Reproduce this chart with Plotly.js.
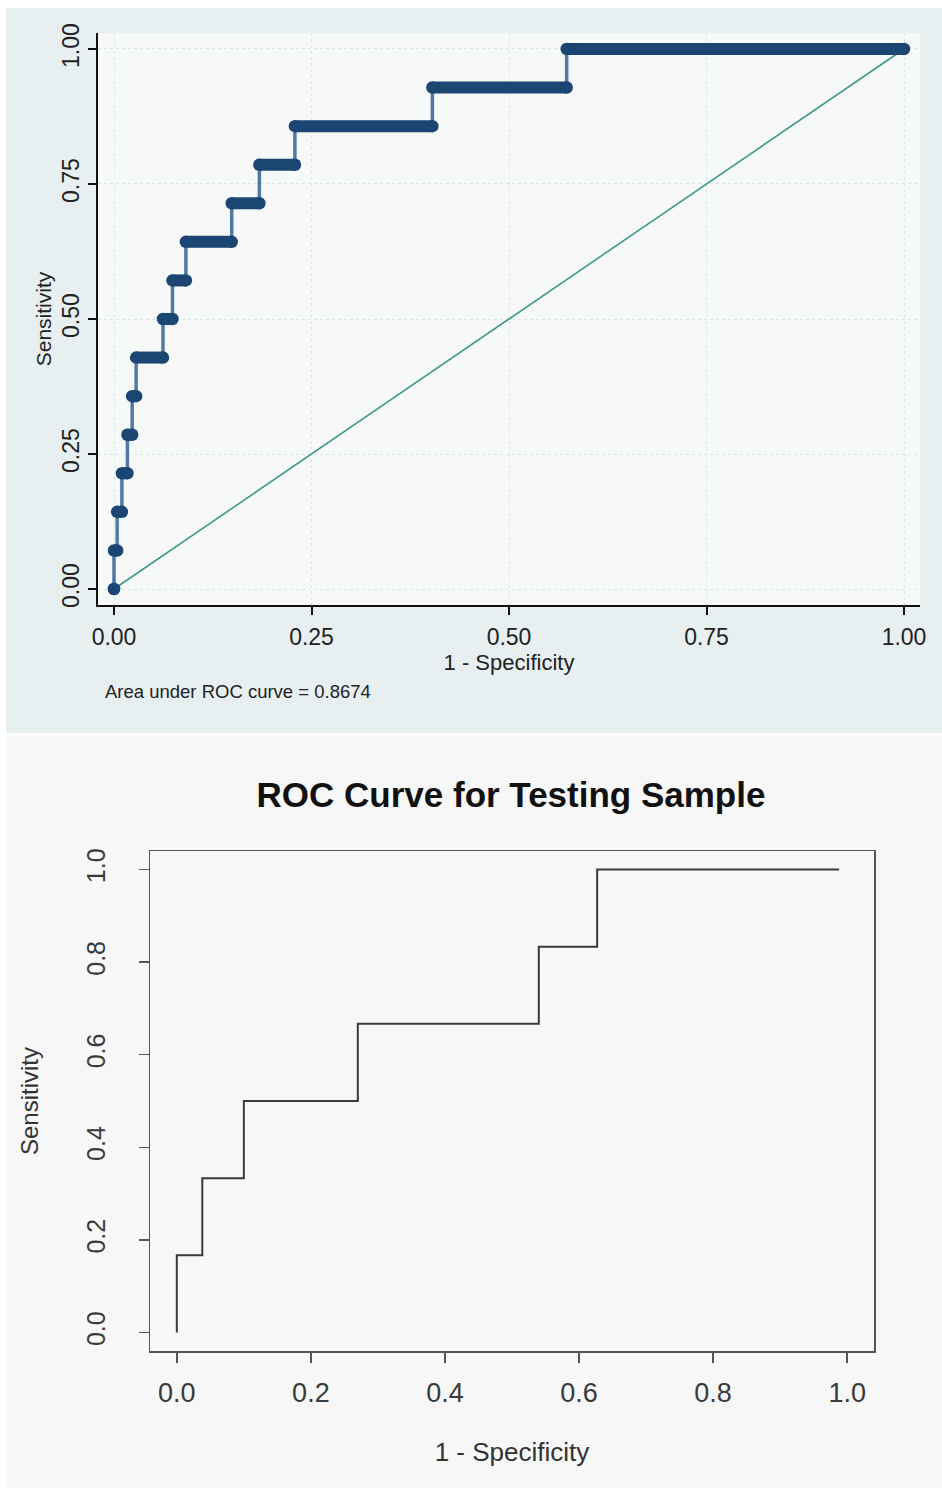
<!DOCTYPE html>
<html>
<head>
<meta charset="utf-8">
<script src="https://cdn.plot.ly/plotly-3.0.1.min.js"></script>
<style>
  html, body { margin: 0; padding: 0; background: #ffffff; }
  #chart { width: 942px; height: 1488px; }
</style>
</head>
<body>
<div id="chart"></div>
<script>
// ---------- Top chart (training ROC, Stata style) ----------
// sensitivity levels (k/14) and the 1-specificity where each level starts / ends
var topTPR      = [0, 0.0714, 0.1429, 0.2143, 0.2857, 0.3571, 0.4286, 0.5000, 0.5714, 0.6429, 0.7143, 0.7857, 0.8571, 0.9286, 1.0000];
var topFPRStart = [0, 0.000, 0.004, 0.010, 0.017, 0.023, 0.028, 0.062, 0.074, 0.091, 0.149, 0.184, 0.229, 0.403, 0.573];
var topFPREnd   = [0, 0.004, 0.010, 0.017, 0.023, 0.028, 0.062, 0.074, 0.091, 0.149, 0.184, 0.229, 0.403, 0.573, 1.000];
var refX = [0, 1];
var refY = [0, 1];
var topTickVals = [0, 0.25, 0.5, 0.75, 1];
var topTickText = ['0.00', '0.25', '0.50', '0.75', '1.00'];
var aucText = 'Area under ROC curve = 0.8674';

// ---------- Bottom chart (testing ROC, R style) ----------
var testFPR = [0, 0.038, 0.100, 0.270, 0.540, 0.627, 0.988];
var testTPR = [0, 0.1667, 0.3333, 0.5000, 0.6667, 0.8333, 1.0000];
var testTickVals = [0, 0.2, 0.4, 0.6, 0.8, 1.0];
var testTickText = ['0.0', '0.2', '0.4', '0.6', '0.8', '1.0'];
var testTitle = 'ROC Curve for Testing Sample';

// build segment arrays from the data
var vx = [], vy = [], hx = [], hy = [], mx = [], my = [];
for (var k = 0; k < topTPR.length; k++) {
  if (k > 0) {
    vx.push(topFPRStart[k], topFPRStart[k], null);
    vy.push(topTPR[k - 1], topTPR[k], null);
  }
  hx.push(topFPRStart[k], topFPREnd[k], null);
  hy.push(topTPR[k], topTPR[k], null);
  mx.push(topFPRStart[k], topFPREnd[k]);
  my.push(topTPR[k], topTPR[k]);
}

var navy = '#1b4673';
var traces = [
  { x: refX, y: refY, xaxis: 'x', yaxis: 'y', mode: 'lines', type: 'scatter',
    line: { color: '#3f9a8a', width: 1.6 }, hoverinfo: 'skip' },
  { x: vx, y: vy, xaxis: 'x', yaxis: 'y', mode: 'lines', type: 'scatter',
    line: { color: '#5079a4', width: 3.5 }, connectgaps: false, hoverinfo: 'skip' },
  { x: hx, y: hy, xaxis: 'x', yaxis: 'y', mode: 'lines', type: 'scatter',
    line: { color: navy, width: 12 }, connectgaps: false, hoverinfo: 'skip' },
  { x: mx, y: my, xaxis: 'x', yaxis: 'y', mode: 'markers', type: 'scatter',
    marker: { color: navy, size: 12.5, line: { width: 0 } } },
  { x: testFPR, y: testTPR, xaxis: 'x2', yaxis: 'y2', mode: 'lines', type: 'scatter',
    line: { color: '#3a3a3a', width: 2, shape: 'vh' } }
];

var W = 942, H = 1488;
var fontMain = 'Liberation Sans, Arial, sans-serif';
var layout = {
  width: W, height: H,
  margin: { l: 0, r: 0, t: 0, b: 0 },
  paper_bgcolor: '#ffffff',
  plot_bgcolor: 'rgba(0,0,0,0)',
  showlegend: false,
  font: { family: fontMain, color: '#222222' },
  title: {
    text: '<b>' + testTitle + '</b>',
    x: 511 / W, xanchor: 'center',
    y: 1 - 795 / H, yanchor: 'middle',
    yref: 'paper', xref: 'paper',
    font: { family: fontMain, size: 35, color: '#111111' }
  },
  xaxis: {
    domain: [98 / W, 920 / W], anchor: 'y',
    range: [-0.02025, 1.02025],
    tickmode: 'array', tickvals: topTickVals, ticktext: topTickText,
    ticks: 'outside', ticklen: 8, tickwidth: 2, tickcolor: '#111111',
    showline: true, linecolor: '#111111', linewidth: 2,
    showgrid: true, gridcolor: '#d6e6e9', griddash: 'dot', gridwidth: 1,
    zeroline: false,
    ticklabelstandoff: 2,
    tickfont: { family: fontMain, size: 23, color: '#222222' },
    title: { text: '1 - Specificity', standoff: 4, font: { family: fontMain, size: 22, color: '#222222' } }
  },
  yaxis: {
    domain: [1 - 605 / H, 1 - 33 / H], anchor: 'x',
    range: [-0.0296, 1.0296],
    tickmode: 'array', tickvals: topTickVals, ticktext: topTickText,
    tickangle: -90,
    ticks: 'outside', ticklen: 8, tickwidth: 2, tickcolor: '#111111',
    showline: true, linecolor: '#111111', linewidth: 2,
    showgrid: true, gridcolor: '#d6e6e9', griddash: 'dot', gridwidth: 1,
    zeroline: false,
    ticklabelstandoff: 0,
    tickfont: { family: fontMain, size: 23, color: '#222222' },
    title: { text: 'Sensitivity', standoff: 0, font: { family: fontMain, size: 21, color: '#222222' } }
  },
  xaxis2: {
    domain: [150 / W, 874 / W], anchor: 'y2',
    range: [-0.04, 1.04],
    tickmode: 'array', tickvals: testTickVals, ticktext: testTickText,
    ticks: 'outside', ticklen: 10, tickwidth: 1.5, tickcolor: '#555555',
    showline: true, mirror: true, linecolor: '#555555', linewidth: 1.5,
    showgrid: false, zeroline: false,
    ticklabelstandoff: 7,
    tickfont: { family: fontMain, size: 27, color: '#3a3a3a' },
    title: { text: '1 - Specificity', standoff: 36, font: { family: fontMain, size: 26, color: '#333333' } }
  },
  yaxis2: {
    domain: [1 - 1351 / H, 1 - 851 / H], anchor: 'x2',
    range: [-0.04, 1.04],
    tickmode: 'array', tickvals: testTickVals, ticktext: testTickText,
    tickangle: -90,
    ticks: 'outside', ticklen: 10, tickwidth: 1.5, tickcolor: '#555555',
    showline: true, mirror: true, linecolor: '#555555', linewidth: 1.5,
    showgrid: false, zeroline: false,
    ticklabelstandoff: 24,
    tickfont: { family: fontMain, size: 25, color: '#3a3a3a' },
    title: { text: 'Sensitivity', standoff: 36, font: { family: fontMain, size: 24, color: '#333333' } }
  },
  shapes: [
    // top panel outer background
    { type: 'rect', xref: 'paper', yref: 'paper', layer: 'below',
      x0: 6 / W, x1: 1, y0: 1 - 733 / H, y1: 1 - 8 / H,
      fillcolor: '#e7eff1', line: { width: 0 } },
    // top plot area
    { type: 'rect', xref: 'x domain', yref: 'y domain', layer: 'below',
      x0: 0, x1: 1, y0: 0, y1: 1,
      fillcolor: '#f7f8f8', line: { width: 0 } },
    // bottom panel background
    { type: 'rect', xref: 'paper', yref: 'paper', layer: 'below',
      x0: 6 / W, x1: 1, y0: 0, y1: 1 - 736 / H,
      fillcolor: '#f7f7f7', line: { width: 0 } }
  ],
  annotations: [
    { text: aucText, xref: 'paper', yref: 'paper',
      x: 103 / W, xanchor: 'left', y: 1 - 691 / H, yanchor: 'middle',
      showarrow: false,
      font: { family: 'Liberation Sans Narrow, Arial Narrow, Liberation Sans, sans-serif', size: 18.5, color: '#222222' } }
  ]
};

Plotly.newPlot('chart', traces, layout, { displayModeBar: false, staticPlot: true });
</script>
</body>
</html>
